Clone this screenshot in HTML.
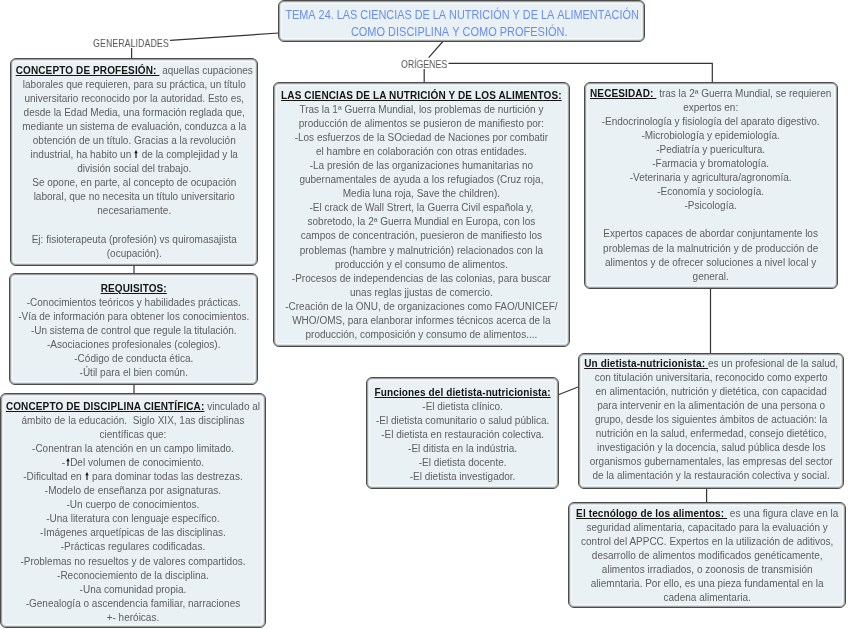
<!DOCTYPE html>
<html><head><meta charset="utf-8">
<style>
html,body{margin:0;padding:0;background:#fff;}
body{width:848px;height:629px;position:relative;overflow:hidden;font-family:"Liberation Sans",sans-serif;}
.box{position:absolute;box-sizing:border-box;border:1.4px solid #4a4a4a;border-radius:6px;background:#e9f1f4;box-shadow:inset 0 0 0 1px rgba(70,76,80,.42),inset 0 0 0 2px rgba(205,211,214,.6),inset 0 0 0 3px rgba(255,255,255,.65);}
.t{position:absolute;will-change:transform;text-align:center;font-size:10px;line-height:14.05px;color:#5e5e5e;white-space:nowrap;}
.t b{color:#151515;text-decoration:underline;text-underline-offset:0.5px;letter-spacing:0.12px;}
.lbl{position:absolute;will-change:transform;font-size:10px;color:#555;white-space:nowrap;line-height:12px;}
svg.lines{position:absolute;left:0;top:0;}
.ar{display:inline-block;vertical-align:baseline;margin:0 0.5px;}
.sx{display:inline-block;transform-origin:50% 50%;}
</style></head><body>
<svg class="lines" width="848" height="629" viewBox="0 0 848 629">
<g stroke="#333" stroke-width="1.2" fill="none">
<path d="M170 40.3 L279 33"/>
<path d="M131.6 48 V58"/>
<path d="M134 265 V274"/>
<path d="M134 384 V394"/>
<path d="M442.8 41.5 L428.7 57.6"/>
<path d="M424.2 69 V83"/>
<path d="M448.5 63.3 H712.3 V83"/>
<path d="M710.5 288 V353"/>
<path d="M558.4 394.8 L578 387"/>
<path d="M706.6 488.5 V502.5"/>
</g>
</svg>

<!-- Title -->
<div class="box" style="left:278px;top:0;width:366.5px;height:42px;"></div>
<div class="t" style="left:162px;width:600px;top:6.5px;font-size:12.2px;line-height:16.5px;font-kerning:none;color:#6a8df2;"><span class="sx" style="transform:scaleX(0.892)">TEMA 24. LAS CIENCIAS DE LA NUTRICIÓN Y DE LA ALIMENTACIÓN</span><br><span class="sx" style="transform:scaleX(0.901);position:relative;left:-2.5px">COMO DISCIPLINA Y COMO PROFESIÓN.</span></div>

<div class="lbl" style="left:93.4px;top:38px;font-size:10.3px;transform:scaleX(0.865);transform-origin:0 0;">GENERALIDADES</div>
<div class="lbl" style="left:400.8px;top:59.2px;font-size:10.2px;transform:scaleX(0.86);transform-origin:0 0;">ORÍGENES</div>

<!-- Profesion -->
<div class="box" style="left:9.6px;top:57.5px;width:248.5px;height:208.3px;"></div>
<div class="t" style="left:9.6px;width:248.5px;top:64px;"><b>CONCEPTO DE PROFESIÓN:&nbsp;</b> aquellas cupaciones<br>laborales que requieren, para su práctica, un título<br>universitario reconocido por la autoridad. Esto es,<br>desde la Edad Media, una formación reglada que,<br>mediante un sistema de evaluación, conduzca a la<br>obtención de un título. Gracias a la revolución<br>industrial, ha habito un <svg class="ar" width="4" height="8" viewBox="0 0 4 8"><path d="M2 0 L3.7 3.2 H2.55 V8 H1.45 V3.2 H0.3 Z" fill="#111"/></svg> de la complejidad y la<br>división social del trabajo.<br>Se opone, en parte, al concepto de ocupación<br>laboral, que no necesita un título universitario<br>necesariamente.<br><br>Ej: fisioterapeuta (profesión) vs quiromasajista<br>(ocupación).</div>

<!-- Requisitos -->
<div class="box" style="left:8.6px;top:273.3px;width:249.5px;height:111.4px;"></div>
<div class="t" style="left:8.6px;width:249.5px;top:282.1px;"><b>REQUISITOS:</b><br>-Conocimientos teóricos y habilidades prácticas.<br>-Vía de información para obtener los conocimientos.<br>-Un sistema de control que regule la titulación.<br>-Asociaciones profesionales (colegios).<br>-Código de conducta ética.<br>-Útil para el bien común.</div>

<!-- Disciplina -->
<div class="box" style="left:0.4px;top:393.4px;width:265.9px;height:234.2px;"></div>
<div class="t" style="left:0.4px;width:265.9px;top:399.7px;"><b>CONCEPTO DE DISCIPLINA CIENTÍFICA:</b> vinculado al<br>ámbito de la educación.&nbsp; Siglo XIX, 1as disciplinas<br>científicas que:<br>-Conentran la atención en un campo limitado.<br>-<svg class="ar" width="4" height="8" viewBox="0 0 4 8"><path d="M2 0 L3.7 3.2 H2.55 V8 H1.45 V3.2 H0.3 Z" fill="#111"/></svg>Del volumen de conocimiento.<br>-Dificultad en <svg class="ar" width="4" height="8" viewBox="0 0 4 8"><path d="M2 0 L3.7 3.2 H2.55 V8 H1.45 V3.2 H0.3 Z" fill="#111"/></svg> para dominar todas las destrezas.<br>-Modelo de enseñanza por asignaturas.<br>-Un cuerpo de conocimientos.<br>-Una literatura con lenguaje específico.<br>-Imágenes arquetípicas de las disciplinas.<br>-Prácticas regulares codificadas.<br>-Problemas no resueltos y de valores compartidos.<br>-Reconociemiento de la disciplina.<br>-Una comunidad propia.<br>-Genealogía o ascendencia familiar, narraciones<br>+- heróicas.</div>

<!-- Ciencias -->
<div class="box" style="left:273px;top:82.3px;width:296.8px;height:264.3px;"></div>
<div class="t" style="left:273px;width:296.8px;top:89.4px;"><b>LAS CIENCIAS DE LA NUTRICIÓN Y DE LOS ALIMENTOS:</b><br>Tras la 1ª Guerra Mundial, los problemas de nurtición y<br>producción de alimentos se pusieron de manifiesto por:<br>-Los esfuerzos de la SOciedad de Naciones por combatir<br>el hambre en colaboración con otras entidades.<br>-La presión de las organizaciones humanitarias no<br>gubernamentales de ayuda a los refugiados (Cruz roja,<br>Media luna roja, Save the children).<br>-El crack de Wall Strert, la Guerra Civil española y,<br>sobretodo, la 2ª Guerra Mundial en Europa, con los<br>campos de concentración, puesieron de manifiesto los<br>problemas (hambre y malnutrición) relacionados con la<br>producción y el consumo de alimentos.<br>-Procesos de independencias de las colonias, para buscar<br>unas reglas jjustas de comercio.<br>-Creación de la ONU, de organizaciones como FAO/UNICEF/<br>WHO/OMS, para elanborar informes técnicos acerca de la<br>producción, composición y consumo de alimentos....</div>

<!-- Necesidad -->
<div class="box" style="left:584.3px;top:82.3px;width:253.3px;height:206.3px;"></div>
<div class="t" style="left:584.3px;width:253.3px;top:87.4px;"><b>NECESIDAD:&nbsp;</b> tras la 2ª Guerra Mundial, se requieren<br>expertos en:<br>-Endocrinología y fisiología del aparato digestivo.<br>-Microbiología y epidemiología.<br>-Pediatría y puericultura.<br>-Farmacia y bromatología.<br>-Veterinaria y agricultura/agronomía.<br>-Economía y sociología.<br>-Psicología.<br><br>Expertos capaces de abordar conjuntamente los<br>problemas de la malnutrición y de producción de<br>alimentos y de ofrecer soluciones a nivel local y<br>general.</div>

<!-- Dietista -->
<div class="box" style="left:577.6px;top:352.6px;width:266.3px;height:136.4px;"></div>
<div class="t" style="left:577.6px;width:266.3px;top:356.5px;"><b>Un dietista-nutricionista:&nbsp;</b>es un profesional de la salud,<br>con titulación universitaria, reconocido como experto<br>en alimentación, nutrición y dietética, con capacidad<br>para intervenir en la alimentación de una persona o<br>grupo, desde los siguientes ámbitos de actuación: la<br>nutrición en la salud, enfermedad, consejo dietético,<br>investigación y la docencia, salud pública desde los<br>organismos gubernamentales, las empresas del sector<br>de la alimentación y la restauración colectiva y social.</div>

<!-- Funciones -->
<div class="box" style="left:365.6px;top:377.2px;width:193.2px;height:111.6px;"></div>
<div class="t" style="left:365.6px;width:193.2px;top:386.3px;"><b>Funciones del dietista-nutricionista:</b><br>-El dietista clínico.<br>-El dietista comunitario o salud pública.<br>-El dietista en restauración colectiva.<br>-El ditista en la indústria.<br>-El dietista docente.<br>-El dietista investigador.</div>

<!-- Tecnologo -->
<div class="box" style="left:567.8px;top:502px;width:278.4px;height:106px;"></div>
<div class="t" style="left:567.8px;width:278.4px;top:507px;"><b>El tecnólogo de los alimentos:&nbsp;</b> es una figura clave en la<br>seguridad alimentaria, capacitado para la evaluación y<br>control del APPCC. Expertos en la utilización de aditivos,<br>desarrollo de alimentos modificados genéticamente,<br>alimentos irradiados, o zoonosis de transmisión<br>aliemntaria. Por ello, es una pieza fundamental en la<br>cadena alimentaria.</div>

</body></html>
